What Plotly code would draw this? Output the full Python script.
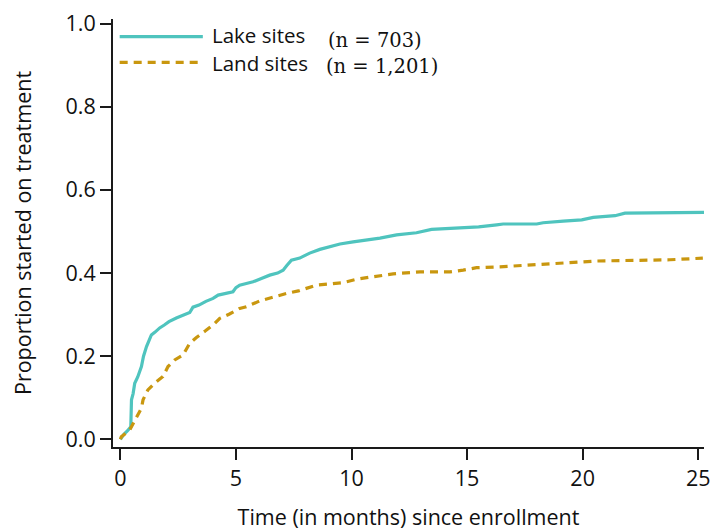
import plotly.graph_objects as go

# Cumulative proportion started on treatment, by site type
lake_months = [0, 0.15, 0.3, 0.45, 0.48, 0.55, 0.62, 0.75, 0.91, 1.0, 1.13, 1.25, 1.34, 1.5, 1.7,
               1.9, 2.1, 2.42, 2.7, 3.0, 3.14, 3.4, 3.7, 4.01, 4.23, 4.5, 4.87, 5.0, 5.16, 5.45,
               5.74, 6.1, 6.46, 6.8, 7.04, 7.2, 7.4, 7.76, 8.19, 8.63, 9.1, 9.5, 10.07, 10.79, 11.23,
               11.95, 12.81, 13.46, 14.69, 15.5, 16.28, 16.56, 18.01, 18.29, 19.16, 19.96, 20.46,
               21.4, 21.83, 24.35, 25.25]
lake_prop = [0.0, 0.012, 0.02, 0.03, 0.095, 0.11, 0.135, 0.15, 0.175, 0.2, 0.223, 0.24, 0.251, 0.258,
             0.268, 0.275, 0.283, 0.292, 0.298, 0.305, 0.318, 0.323, 0.332, 0.339, 0.347, 0.35, 0.355,
             0.365, 0.371, 0.375, 0.379, 0.387, 0.395, 0.4, 0.407, 0.418, 0.431, 0.436, 0.448, 0.457,
             0.464, 0.47, 0.475, 0.481, 0.484, 0.492, 0.497, 0.505, 0.509, 0.511, 0.516, 0.518, 0.518,
             0.521, 0.525, 0.528, 0.534, 0.538, 0.544, 0.546, 0.546]

land_months = [0, 0.04, 0.4, 0.55, 0.62, 0.91, 0.98, 1.19, 1.48, 1.84, 2.06, 2.35, 2.71, 3.0, 3.29,
               3.68, 4.05, 4.3, 4.7, 5.16, 5.45, 6.03, 6.61, 7.19, 7.7, 8.48, 9.64, 10.22, 10.79, 11.8,
               12.96, 14.26, 14.83, 15.41, 16.42, 17.79, 19.52, 20.61, 23.78, 25.2]
land_prop = [0.0, 0.006, 0.022, 0.04, 0.045, 0.075, 0.095, 0.119, 0.135, 0.151, 0.175, 0.191, 0.203,
             0.231, 0.245, 0.261, 0.277, 0.291, 0.301, 0.315, 0.319, 0.333, 0.343, 0.351, 0.357, 0.371,
             0.377, 0.385, 0.39, 0.398, 0.403, 0.403, 0.407, 0.413, 0.415, 0.419, 0.425, 0.429, 0.432,
             0.436]

series_names = ["Lake sites", "Land sites"]
series_counts = ["(n = 703)", "(n = 1,201)"]
x_ticks = [0, 5, 10, 15, 20, 25]
y_ticks = [0.0, 0.2, 0.4, 0.6, 0.8, 1.0]

TEAL = "#4FC4BE"
GOLD = "#C9970F"
AXIS = "#1a1a1a"
SANS = "Open Sans, Noto Sans, DejaVu Sans, sans-serif"
SERIF = "DejaVu Serif, Liberation Serif, serif"
FS = 21.5


def paper_y(px):
    """Convert a pixel row inside the plot area to paper coordinates."""
    return (447 - px) / 428


fig = go.Figure()
fig.add_trace(go.Scatter(x=lake_months, y=lake_prop, mode="lines", name=series_names[0],
                         line=dict(color=TEAL, width=3.2), showlegend=False))
fig.add_trace(go.Scatter(x=land_months, y=land_prop, mode="lines", name=series_names[1],
                         line=dict(color=GOLD, width=3.2, dash="8px,6px"), showlegend=False))

# Hand-built legend: line samples, names, and group sizes
legend_rows = [
    dict(line_px=36.7, color=TEAL, dash="solid", text_px=35.5, n_x=0.360, n_px=40.5),
    dict(line_px=62.3, color=GOLD, dash="8px,6px", text_px=63.5, n_x=0.357, n_px=66.5),
]
for i, row in enumerate(legend_rows):
    fig.add_shape(type="line", xref="paper", yref="paper", x0=0.0113, x1=0.152,
                  y0=paper_y(row["line_px"]), y1=paper_y(row["line_px"]),
                  line=dict(color=row["color"], width=3.2, dash=row["dash"]))
    fig.add_annotation(xref="paper", yref="paper", x=0.1637, y=paper_y(row["text_px"]),
                       text=series_names[i], showarrow=False, xanchor="left", yanchor="middle",
                       font=dict(family=SANS, size=20.5, color="#111"))
    fig.add_annotation(xref="paper", yref="paper", x=row["n_x"], y=paper_y(row["n_px"]),
                       text=series_counts[i], showarrow=False, xanchor="left", yanchor="middle",
                       font=dict(family=SERIF, size=19.5, color="#111"))

fig.update_layout(
    width=713, height=531,
    margin=dict(l=113, r=9, t=19, b=84),
    paper_bgcolor="white", plot_bgcolor="white",
    font=dict(family=SANS, size=FS, color="#111"),
    showlegend=False,
)
fig.update_xaxes(
    range=[-0.32, 25.25], tickvals=x_ticks, ticktext=[str(v) for v in x_ticks],
    showgrid=False, zeroline=False, showline=True, linecolor=AXIS, linewidth=2,
    ticks="outside", ticklen=11, tickwidth=2, tickcolor=AXIS, automargin=False,
    tickfont=dict(family=SANS, size=FS),
    title=dict(text="Time (in months) since enrollment", font=dict(family=SANS, size=FS), standoff=19),
)
fig.update_yaxes(
    range=[-0.0185, 1.0113], tickvals=y_ticks, ticktext=[f"{v:.1f}" for v in y_ticks],
    showgrid=False, zeroline=False, showline=True, linecolor=AXIS, linewidth=2,
    ticks="outside", ticklen=11, tickwidth=2, tickcolor=AXIS, automargin=False,
    tickfont=dict(family=SANS, size=FS),
    title=dict(text="Proportion started on treatment", font=dict(family=SANS, size=FS), standoff=28),
)

fig.write_html("out.html")
